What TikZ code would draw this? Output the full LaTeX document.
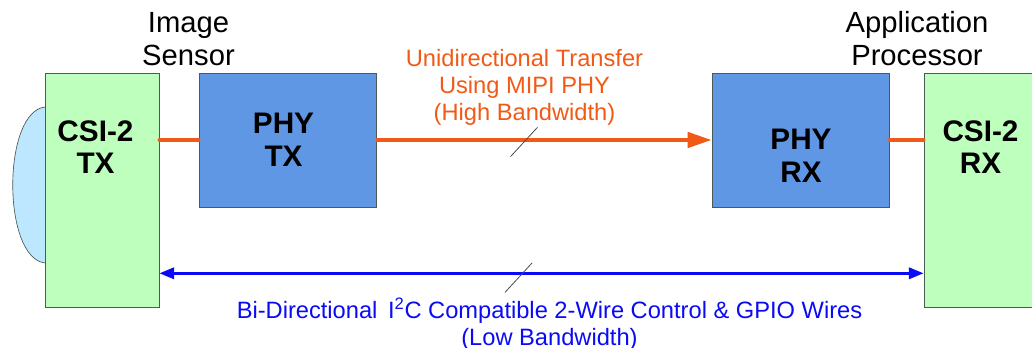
\documentclass[tikz,border=0pt]{standalone}
\usepackage{fontspec}
\setmainfont{Liberation Sans}
\usepackage{tikz}
\usetikzlibrary{arrows.meta}
\definecolor{csigreen}{HTML}{BEFFBE}
\definecolor{phyblue}{HTML}{6097E4}
\definecolor{lensblue}{HTML}{BDE6FF}
\definecolor{linkorange}{HTML}{F15A16}
\definecolor{ctlblue}{HTML}{0A0AF5}
\definecolor{boxedge}{HTML}{4A5A55}
\tikzset{
	csibox/.style={draw=boxedge,fill=csigreen,line width=0.7pt,minimum width=85.5pt,minimum height=175.5pt,inner sep=0pt},
	phybox/.style={draw=boxedge,fill=phyblue,line width=0.7pt,minimum width=132.75pt,minimum height=100.5pt,inner sep=0pt},
	blocktext/.style={align=center,font=\fontsize{22.3}{24.5}\selectfont\bfseries,inner sep=0pt},
	headtext/.style={align=center,font=\fontsize{21.9}{24.75}\selectfont,inner sep=0pt},
	notetext/.style={align=center,font=\fontsize{17.75}{20.25}\selectfont,inner sep=0pt},
	datalink/.style={draw=linkorange,line width=3pt},
	ctllink/.style={draw=ctlblue,line width=1.9pt},
	tickline/.style={draw=black!70,line width=0.6pt}
}
\begin{document}
\begin{tikzpicture}[x=0.75pt,y=-0.75pt]
		\useasboundingbox (0,0) rectangle (1032,348);
		\draw[draw=boxedge,fill=lensblue,line width=0.5pt] (45,107) .. controls (2,112) and (2,258) .. (45,263);
		\node[csibox] (csitx) at (102,190) {};
		\node[csibox] (csirx) at (981,190) {};
		\node[phybox] (phytx) at (287.5,140) {};
		\node[phybox] (phyrx) at (800.5,140) {};
		\coordinate (ctlrow) at (0,273.3);
		\coordinate (tickdata) at (524,142);
		\coordinate (tickctl) at (518.5,277.7);
		\draw[datalink,line cap=round] (phytx.west) -- (phytx.west -| csitx.east);
		\draw[datalink,line cap=round] (phyrx.east) -- (phyrx.east -| csirx.west);
		\draw[datalink,-{Triangle[length=18pt,width=11.5pt]}] (phytx.east) -- (phyrx.west);
		\draw[ctllink,{Triangle[length=11pt,width=8.5pt]}-{Triangle[length=11pt,width=8.5pt]}] (csitx.east |- ctlrow) -- (csirx.west |- ctlrow);
		\draw[tickline] (tickdata) ++(-13.5,14.7) -- ++(27,-29.4);
		\draw[tickline] (tickctl) ++(-13.5,14.7) -- ++(27,-29.4);
		\node[blocktext] (csitxtext) at (95.5,147) {CSI-2\\TX};
		\node[blocktext] (csirxtext) at (980.5,147) {CSI-2\\RX};
		\node[blocktext] (phytxtext) at (283.5,139.5) {PHY\\TX};
		\node[blocktext] (phyrxtext) at (801,156) {PHY\\RX};
		\node[headtext] (sensor) at (188.5,39) {Image\\Sensor};
		\node[headtext] (processor) at (917,39) {Application\\Processor};
		\node[notetext,text=linkorange] (datanote) at (524.5,87) {Unidirectional Transfer\\Using MIPI PHY\\(High Bandwidth)};
		\node[notetext,text=ctlblue] (ctlnote) at (549.5,324) {Bi-Directional\hspace{0.45em}I\textsuperscript{2}C Compatible 2-Wire Control \& GPIO Wires\\(Low Bandwidth)};
\end{tikzpicture}
\end{document}
